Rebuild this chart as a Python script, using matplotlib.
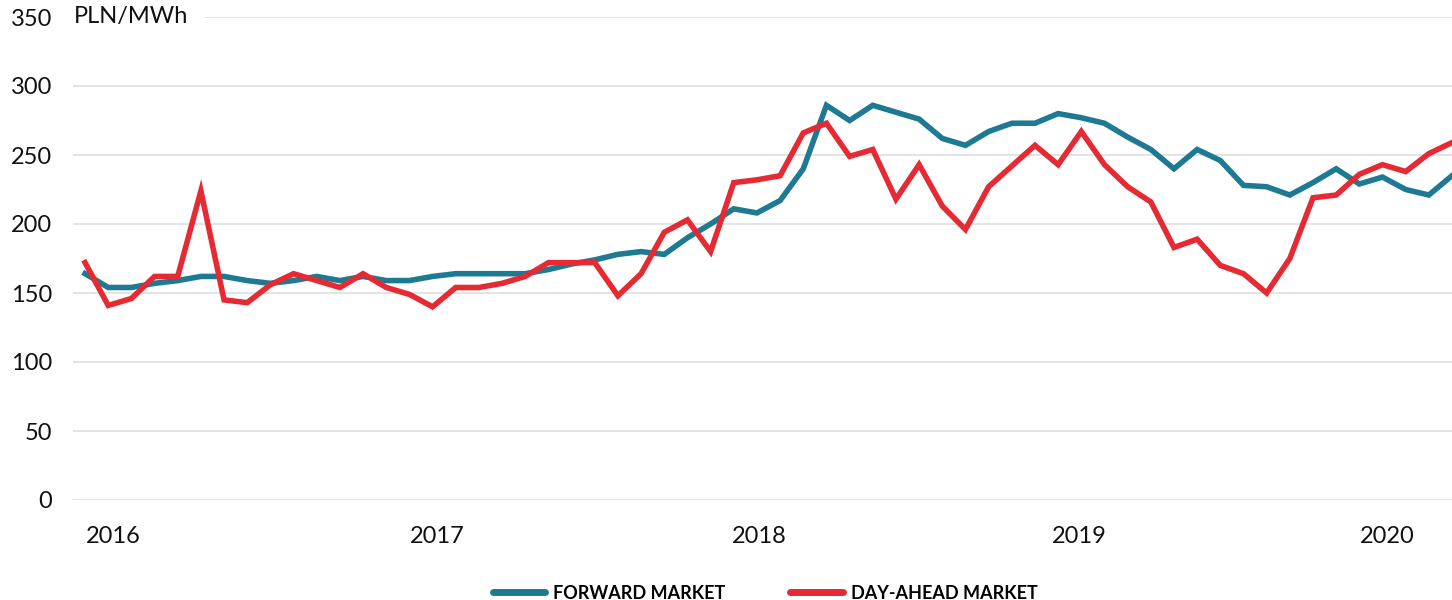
import matplotlib.pyplot as plt
from matplotlib.lines import Line2D

# monthly prices, PLN/MWh
forward_market = [
    164, 154, 154, 157, 159, 162, 162, 159, 157, 159,
    162, 159, 162, 159, 159, 162, 164, 164, 164, 164,
    167, 171, 174, 178, 180, 178, 190, 200, 211, 208,
    217, 240, 286, 275, 286, 281, 276, 262, 257, 267,
    273, 273, 280, 277, 273, 263, 254, 240, 254, 246,
    228, 227, 221, 230, 240, 229, 234, 225, 221, 235,
]
day_ahead_market = [
    172, 141, 146, 162, 162, 224, 145, 143, 156, 164,
    159, 154, 164, 154, 149, 140, 154, 154, 157, 162,
    172, 172, 172, 148, 164, 194, 203, 180, 230, 232,
    235, 266, 273, 249, 254, 218, 243, 213, 196, 227,
    242, 257, 243, 267, 243, 227, 216, 183, 189, 170,
    164, 150, 175, 219, 221, 236, 243, 238, 251, 259,
]
year_labels = ["2016", "2017", "2018", "2019", "2020"]
year_ticks = [1.2, 15.2, 29.1, 42.9, 56.2]
y_ticks = [0, 50, 100, 150, 200, 250, 300, 350]

BLUE = "#1e7a93"
RED = "#e52a33"

plt.rcParams["font.family"] = ["Lato", "DejaVu Sans"]

fig = plt.figure(figsize=(14.52, 6.0), dpi=100)
ax = fig.add_axes([73 / 1452, 100 / 600, 1 - 73 / 1452, 483 / 600])

x = list(range(len(forward_market)))
ax.plot(x, forward_market, color=BLUE, lw=4.0, solid_joinstyle="miter")
ax.plot(x, day_ahead_market, color=RED, lw=4.0, solid_joinstyle="miter")

ax.set_xlim(-0.52, 59)
ax.set_ylim(0, 350)
ax.set_yticks(y_ticks)
ax.set_xticks(year_ticks)
ax.set_xticklabels(year_labels)
ax.tick_params(axis="y", length=0, pad=15, labelsize=17, labelcolor="#111111")
ax.tick_params(axis="x", length=0, pad=19, labelsize=17, labelcolor="#111111")
ax.grid(axis="y", color="#e4e4e4", lw=1.4)
ax.set_axisbelow(True)
for s in ax.spines.values():
    s.set_visible(False)

ax.text(-0.5, 350, "PLN/MWh", fontsize=17, color="#111111", va="center", ha="left",
        bbox=dict(facecolor="white", edgecolor="none", pad=12))

handles = [Line2D([], [], color=BLUE, lw=5, solid_capstyle="round"),
           Line2D([], [], color=RED, lw=5, solid_capstyle="round")]
fig.legend(handles, ["FORWARD MARKET", "DAY-AHEAD MARKET"], loc="lower center",
           bbox_to_anchor=(0.527, -0.03), ncol=2, frameon=False, handlelength=2.9,
           handletextpad=0.45, columnspacing=3.6,
           prop={"weight": "bold", "size": 13})

fig.savefig("out.png", dpi=100)
